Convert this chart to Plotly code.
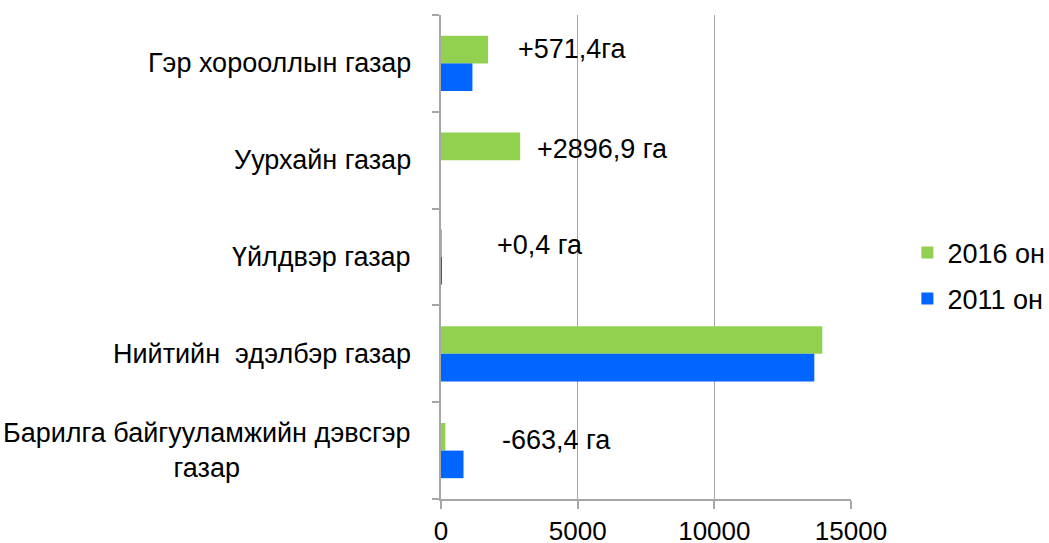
import plotly.graph_objects as go

# Data (top-to-bottom order as shown)
categories = [
    "Гэр хорооллын газар",
    "Уурхайн газар",
    "Үйлдвэр газар",
    "Нийтийн  эдэлбэр газар",
    "Барилга байгууламжийн дэвсгэр<br>газар",
]
values_2016 = [1721, 2897, 1.2, 13950, 160]
values_2011 = [1150, 0, 0.8, 13658, 823.4]
series_names = ["2016 он", "2011 он"]
change_labels = ["+571,4га", "+2896,9 га", "+0,4 га", "+292,1 га", "-663,4 га"]
x_tickvals = [0, 5000, 10000, 15000]

FONT = "Liberation Sans, Arial, sans-serif"
FS = 27
GREEN = "#92D050"
BLUE = "#0066FF"
GRID = "#a6a6a6"

cat_ids = list(range(len(categories)))

fig = go.Figure()
fig.add_trace(go.Bar(y=cat_ids, x=values_2016, orientation="h", name=series_names[0],
                     legendgroup="a",
                     marker=dict(color=GREEN, line=dict(width=0))))
fig.add_trace(go.Bar(y=cat_ids, x=values_2011, orientation="h", name=series_names[1],
                     legendgroup="b",
                     marker=dict(color=BLUE, line=dict(width=0))))

annotations = []
# category labels (centered multi-line, right-anchored)
for i, c in enumerate(categories):
    annotations.append(dict(xref="paper", x=0, yref="y", y=i, text=c,
                            xanchor="right", yanchor="middle", align="center",
                            xshift=-28, showarrow=False,
                            font=dict(family=FONT, size=FS, color="#000")))
# change labels (layout positions in data units)
label_x = [2744, 3440, 1976, 15040, 2159]
label_shift = [14, 11, 12, 12, 11]
for i, t in enumerate(change_labels):
    annotations.append(dict(xref="x", x=label_x[i], yref="y", y=i, text=t,
                            xanchor="left", yanchor="middle", yshift=label_shift[i],
                            showarrow=False,
                            font=dict(family=FONT, size=FS, color="#000")))

fig.update_layout(
    width=1049, height=543,
    margin=dict(l=441, r=198, t=15, b=44, autoexpand=False),
    paper_bgcolor="white", plot_bgcolor="white",
    barmode="group", bargap=0.43, bargroupgap=0,
    font=dict(family=FONT, size=FS, color="#000"),
    annotations=annotations,
    legend=dict(xref="container", yref="container", x=0.865, xanchor="left",
                y=0.492, yanchor="middle", tracegroupgap=8,
                font=dict(family=FONT, size=FS, color="#000"),
                bgcolor="rgba(0,0,0,0)", itemwidth=30),
    xaxis=dict(range=[0, 15000], tickvals=x_tickvals, ticktext=[str(v) for v in x_tickvals],
               showgrid=True, gridcolor=GRID, gridwidth=1,
               showline=True, linecolor=GRID, linewidth=1.5,
               ticks="outside", ticklen=8, tickcolor=GRID, tickwidth=1.5,
               zeroline=False, ticklabelstandoff=0, automargin=False,
               tickfont=dict(family=FONT, size=26, color="#000")),
    yaxis=dict(tickvals=cat_ids, ticktext=[""] * len(cat_ids), range=[4.5, -0.5],
               showgrid=False, zeroline=False, automargin=False,
               showline=True, linecolor=GRID, linewidth=1.5,
               ticks="", showticklabels=False),
)

fig.update_yaxes(minor=dict(tickvals=[-0.5, 0.5, 1.5, 2.5, 3.5, 4.5], ticks="outside",
                            ticklen=7, tickcolor=GRID, tickwidth=1.5, showgrid=False))

fig.write_html("out.html", config={"displayModeBar": False},
               post_script="document.body.style.margin='0';document.body.style.overflow='hidden';")
